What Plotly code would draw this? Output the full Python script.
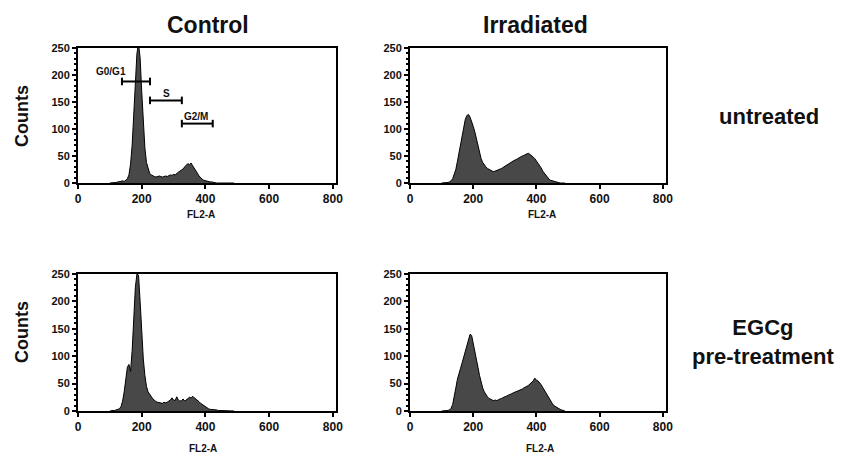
import plotly.graph_objects as go

# ---------------- data ----------------
fl2_a = list(range(100, 495, 5))  # FL2-A channel (bin centres)

control_untreated = [
    0, 0, 1, 1, 1, 2, 2, 3, 4, 3, 5, 8, 15, 35, 70, 120, 185, 240, 258, 232,
    170, 110, 65, 38, 25, 18, 15, 13, 12, 11, 12, 13, 12, 11, 12, 13, 12, 14, 15, 14,
    16, 15, 18, 20, 22, 24, 26, 30, 33, 36, 34, 37, 32, 28, 24, 18, 13, 9, 7, 5,
    4, 3, 3, 2, 2, 1, 1, 0, 0, 0, 0, 0, 0, 0, 0, 0, 0, 0, 0,
]
irradiated_untreated = [
    0, 0, 0, 0, 1, 2, 4, 8, 15, 25, 40, 55, 72, 90, 105, 118, 125, 127, 122, 115,
    105, 95, 82, 68, 55, 45, 38, 33, 30, 27, 25, 23, 22, 21, 22, 23, 24, 26, 27, 29,
    31, 32, 34, 36, 38, 40, 42, 43, 45, 47, 48, 50, 51, 53, 54, 55, 53, 50, 48, 45,
    41, 37, 33, 28, 22, 18, 14, 10, 7, 5, 4, 3, 2, 1, 1, 0, 0, 0, 0,
]
control_egcg = [
    0, 1, 1, 1, 2, 2, 4, 8, 18, 35, 55, 80, 85, 72, 110, 170, 225, 250, 248, 200,
    140, 95, 65, 45, 35, 30, 27, 22, 20, 17, 16, 15, 15, 14, 16, 15, 16, 18, 20, 24,
    20, 19, 26, 20, 18, 19, 22, 18, 20, 22, 25, 24, 27, 24, 22, 20, 17, 14, 12, 9,
    7, 5, 4, 3, 3, 2, 2, 2, 1, 1, 1, 1, 1, 1, 1, 1, 1, 0, 0,
]
irradiated_egcg = [
    0, 0, 0, 1, 1, 2, 5, 12, 25, 42, 58, 70, 78, 88, 98, 108, 120, 132, 140, 138,
    125, 110, 95, 80, 65, 52, 42, 35, 30, 26, 23, 21, 20, 19, 20, 19, 21, 22, 23, 25,
    26, 27, 29, 30, 31, 33, 34, 35, 36, 37, 39, 40, 42, 43, 45, 47, 50, 53, 55, 60,
    56, 55, 52, 48, 43, 38, 32, 27, 22, 18, 14, 10, 8, 6, 4, 3, 2, 1, 0,
]

col_titles = ["Control", "Irradiated"]
row_titles = ["untreated", "EGCg<br>pre-treatment"]
x_title = "FL2-A"
y_title = "Counts"
x_ticks = [0, 200, 400, 600, 800]
y_ticks = [0, 50, 100, 150, 200, 250]

# cell-cycle gates drawn on the control/untreated panel
gate_names = ["G0/G1", "S", "G2/M"]
gate_start = [138, 226, 326]
gate_end = [226, 326, 423]
gate_level = [188, 153, 110]
gate_label_x = [105, 278, 372]
gate_label_y = [207, 166, 123]

# ---------------- figure ----------------
W, H = 847, 460
FONT = "Arial, Liberation Sans, sans-serif"
FILL = "#484848"

panels = [
    (control_untreated, [78, 336], [48, 183]),
    (irradiated_untreated, [410, 666], [48, 183]),
    (control_egcg, [78, 336], [274, 411]),
    (irradiated_egcg, [410, 666], [274, 411]),
]

fig = go.Figure()
layout = {}
for i, (ys, xpx, ypx) in enumerate(panels):
    n = "" if i == 0 else str(i + 1)
    fig.add_trace(go.Scatter(
        x=fl2_a, y=ys, mode="lines",
        line=dict(color="black", width=1),
        fill="tozeroy", fillcolor=FILL,
        xaxis="x" + n, yaxis="y" + n, showlegend=False, hoverinfo="skip",
    ))
    layout["xaxis" + n] = dict(
        domain=[xpx[0] / W, xpx[1] / W], anchor="y" + n,
        range=[0, 810], tickvals=x_ticks, ticks="outside", ticklen=4,
        tickwidth=1.5, tickcolor="black",
        showline=True, linecolor="black", linewidth=2, mirror=True,
        showgrid=False, zeroline=False,
        tickfont=dict(family=FONT, size=12, color="#111", weight="bold"),
    )
    layout["yaxis" + n] = dict(
        domain=[1 - ypx[1] / H, 1 - ypx[0] / H], anchor="x" + n,
        range=[0, 250], tickvals=y_ticks, ticks="outside", ticklen=4,
        tickwidth=1.5, tickcolor="black",
        minor=dict(dtick=10, ticks="outside", ticklen=2, tickcolor="black"),
        showline=True, linecolor="black", linewidth=2, mirror=True,
        showgrid=False, zeroline=False,
        tickfont=dict(family=FONT, size=11, color="#111", weight="bold"),
    )

annotations = []


def ann(text, x, y, size, xref="paper", yref="paper", **kw):
    if xref == "paper":
        x = x / W
    if yref == "paper":
        y = 1 - y / H
    annotations.append(dict(text="<b>%s</b>" % text, x=x, y=y, xref=xref, yref=yref,
                            xanchor="center", yanchor="middle", showarrow=False,
                            font=dict(family=FONT, size=size, color="#111"), **kw))


for t, cx in zip(col_titles, [208, 535]):
    ann(t, cx, 25, 23)
for t, cx, cy in zip(row_titles, [769, 763], [117, 342]):
    ann(t, cx, cy, 22)
for cy in [116, 332]:
    ann(y_title, 22, cy, 18, textangle=-90)
for cx, cy in [(201, 214), (542, 214), (203, 448), (540, 448)]:
    ann(x_title, cx, cy, 10)
for name, lx, ly in zip(gate_names, gate_label_x, gate_label_y):
    ann(name, lx, ly, 10, xref="x", yref="y")

shapes = []
for s, e, lv in zip(gate_start, gate_end, gate_level):
    shapes.append(dict(type="line", xref="x", yref="y", x0=s, x1=e, y0=lv, y1=lv,
                       line=dict(color="black", width=2)))
    for xx in (s, e):
        shapes.append(dict(type="line", xref="x", yref="y", x0=xx, x1=xx,
                           y0=lv - 7, y1=lv + 7, line=dict(color="black", width=2)))

fig.update_layout(
    width=W, height=H, margin=dict(l=0, r=0, t=0, b=0, autoexpand=False),
    paper_bgcolor="white", plot_bgcolor="white",
    annotations=annotations, shapes=shapes, **layout,
)
fig.write_html("out.html", config={"displayModeBar": False},
               post_script="document.body.style.margin='0';document.body.style.padding='0';")
